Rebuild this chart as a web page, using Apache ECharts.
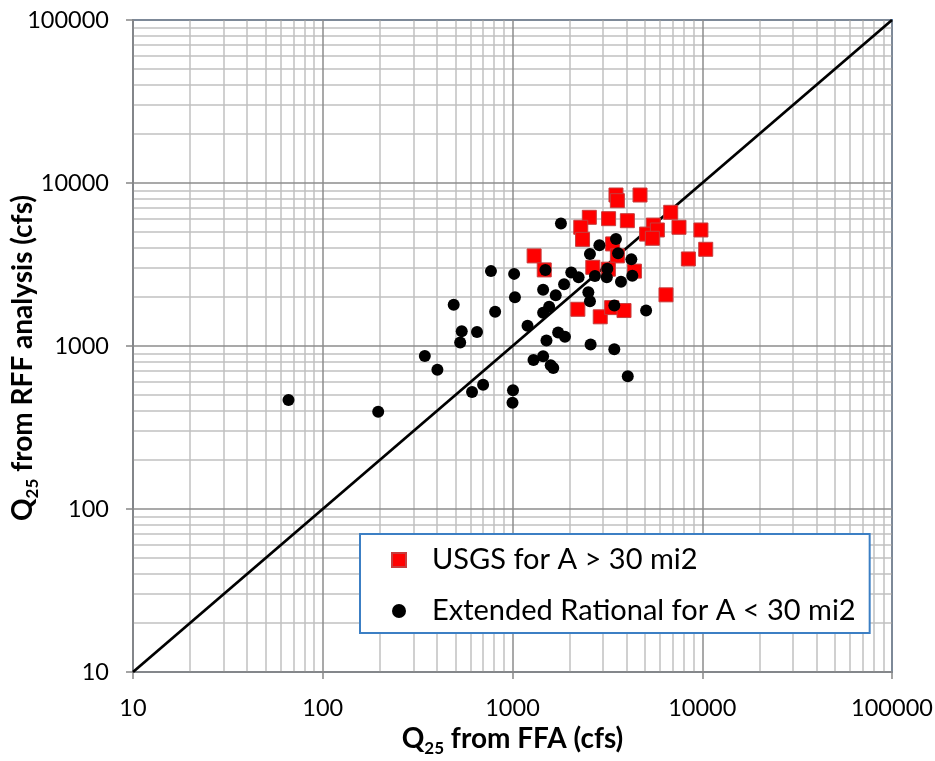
<!DOCTYPE html>
<html><head><meta charset="utf-8">
<script src="https://cdn.jsdelivr.net/npm/echarts@6/dist/echarts.min.js"></script>
<style>html,body{margin:0;padding:0;background:#fff}#c{width:935px;height:761px}</style>
</head><body><div id="c"></div>
<script>
// ---- data ----
const seriesNames = ['USGS for A > 30 mi2', 'Extended Rational for A < 30 mi2'];
const usgsX = [3510, 3570, 4700, 2540, 3210, 4030, 2290, 2340, 3370, 3570, 5520, 5090, 5800, 5460, 6820, 7540, 9840, 10430, 8450, 1300, 1470, 2650, 3200, 4390, 2210, 2900, 3330, 3870, 6440];
const usgsY = [8440, 7790, 8440, 6160, 6040, 5870, 5350, 4510, 4230, 3570, 5520, 4860, 5150, 4580, 6610, 5350, 5150, 3920, 3420, 3570, 2930, 3040, 2960, 2880, 1680, 1510, 1720, 1650, 2060];
const ratX = [1800, 3510, 2870, 2560, 3600, 4230, 770, 1020, 1490, 2040, 2230, 2720, 3160, 3140, 4280, 3730, 1870, 1450, 1690, 1030, 2510, 2560, 490, 810, 1560, 1450, 3440, 5060, 540, 530, 650, 1200, 1740, 1890, 1510, 2580, 3440, 345, 402, 1290, 1450, 1590, 1640, 4050, 700, 612, 1006, 1000, 66, 196];
const ratY = [5650, 4530, 4150, 3670, 3710, 3400, 2880, 2770, 2930, 2820, 2640, 2690, 2980, 2640, 2700, 2480, 2390, 2210, 2050, 1990, 2140, 1880, 1790, 1620, 1740, 1600, 1770, 1650, 1230, 1050, 1220, 1330, 1210, 1140, 1080, 1020, 955, 868, 716, 820, 865, 762, 733, 652, 579, 522, 535, 449, 466, 395];
const lineX = [10, 100000];
const lineY = [10, 100000];
const axisMin = 10, axisMax = 100000;
const xTitle = '{q|Q}{s|25}{q| from FFA (cfs)}';
const yTitle = '{q|Q}{s|25}{q| from RFF analysis (cfs)}';

// minor grid values (2..9 within each decade)
const minorVals = [];
for (let d = axisMin; d < axisMax; d *= 10) for (let k = 2; k <= 9; k++) minorVals.push(k * d);

const FONT = 'Lato';
const titleRich = {
  q: {fontFamily: FONT, fontWeight: 'bold', fontSize: 28, lineHeight: 32, color: '#000', verticalAlign: 'top'},
  s: {fontFamily: FONT, fontWeight: 'bold', fontSize: 17, lineHeight: 17, color: '#000', verticalAlign: 'bottom', padding: [20, 0, 0, 0]}
};
const axisCommon = {
  type: 'log', logBase: 10, min: axisMin, max: axisMax, z: 1.5,
  nameLocation: 'middle', nameMoveOverlap: false,
  axisLine: {show: true, lineStyle: {color: '#868686', width: 1.5}},
  axisTick: {show: true, inside: false, length: 7, lineStyle: {color: '#868686', width: 1.5}},
  splitLine: {show: true, lineStyle: {color: '#8c8c8c', width: 1.5}},
  minorTick: {show: false}, minorSplitLine: {show: false},
  axisLabel: {fontFamily: FONT, fontSize: 23.5, color: '#000', formatter: v => String(Math.round(v)), showMinLabel: true, showMaxLabel: true, hideOverlap: false}
};
const zip = (a, b) => a.map((v, i) => [v, b[i]]);

const chart = echarts.init(document.getElementById('c'), null, {renderer: 'canvas'});
chart.setOption({
  animation: false,
  backgroundColor: '#fff',
  grid: {left: 133, right: 43, top: 20, bottom: 89, containLabel: false, outerBoundsMode: 'none',
         show: true, borderColor: '#4f81bd', borderWidth: 2, backgroundColor: 'transparent'},
  xAxis: Object.assign({}, axisCommon, {
    name: xTitle, nameGap: 53, nameTextStyle: {rich: titleRich},
    axisLabel: Object.assign({}, axisCommon.axisLabel, {margin: 24})
  }),
  yAxis: Object.assign({}, axisCommon, {
    name: yTitle, nameGap: 92, nameRotate: 90, nameTextStyle: {rich: titleRich, padding: [0, 24, 0, 0]},
    axisLabel: Object.assign({}, axisCommon.axisLabel, {margin: 24})
  }),
  legend: {
    show: true, orient: 'vertical', left: 360, top: 534,
    backgroundColor: '#fff', borderColor: '#3c7fc4', borderWidth: 2, borderRadius: 0,
    padding: [9, 14, 5, 31], itemGap: 17, itemWidth: 14, itemHeight: 14,
    textStyle: {fontFamily: FONT, fontSize: 29, lineHeight: 34, color: '#000', padding: [0, 0, 0, 21]},
    data: [{name: seriesNames[0], icon: 'rect'}, {name: seriesNames[1], icon: 'circle'}],
    selectedMode: false
  },
  series: [
    {
      type: 'line', name: 'grid', data: [], z: 1, silent: true,
      markLine: {
        z: 1, silent: true, symbol: ['none', 'none'], label: {show: false}, animation: false,
        lineStyle: {color: '#c0c0c0', width: 1.5, type: 'solid'},
        emphasis: {disabled: true},
        data: minorVals.map(v => ({xAxis: v})).concat(minorVals.map(v => ({yAxis: v})))
      }
    },
    {
      type: 'line', name: 'oneToOne', data: zip(lineX, lineY), z: 2, silent: true,
      showSymbol: false, symbol: 'none', lineStyle: {color: '#000', width: 2.75}
    },
    {
      type: 'scatter', name: seriesNames[0], data: zip(usgsX, usgsY), z: 3,
      symbol: 'rect', symbolSize: 14,
      itemStyle: {color: '#ff0000', borderColor: '#c83c3c', borderWidth: 1, opacity: 1}
    },
    {
      type: 'scatter', name: seriesNames[1], data: zip(ratX, ratY), z: 3,
      symbol: 'circle', symbolSize: 12,
      itemStyle: {color: '#000000', opacity: 1}
    }
  ]
});
</script>
</body></html>
